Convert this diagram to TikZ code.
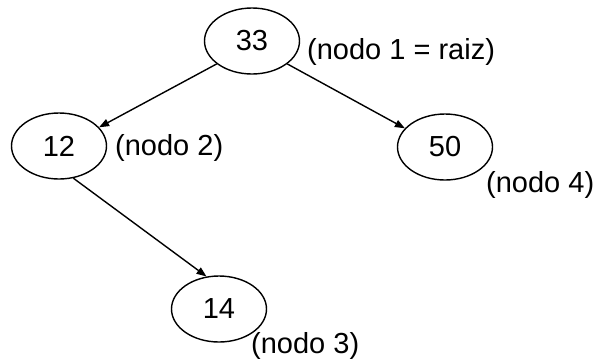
\documentclass[tikz,border=0pt]{standalone}
\usepackage{fontspec}
\setmainfont{Liberation Sans}
\usetikzlibrary{shapes.geometric,arrows.meta}
\tikzset{
  treenode/.style={draw, ellipse, line width=1.4pt, minimum width=95pt, minimum height=66pt, inner sep=0pt, font=\fontsize{29}{34}\selectfont},
  nodelabel/.style={anchor=west, inner sep=0pt, font=\fontsize{29}{34}\selectfont},
  edge/.style={line width=1.4pt, -{Triangle[length=10pt,width=7.5pt]}}
}
\begin{document}
\begin{tikzpicture}[x=1pt,y=-1pt]
\useasboundingbox (0,0) rectangle (594,360);
\node[treenode] (n33) at (252,41) {33};
\node[treenode] (n12) at (59,146) {12};
\node[treenode] (n50) at (445,147) {50};
\node[treenode] (n14) at (219,309) {14};
\node[nodelabel] (l1) at (307,52) {(nodo 1 = raiz)};
\node[nodelabel] (l2) at (115,148) {(nodo 2)};
\node[nodelabel] (l4) at (486,185) {(nodo 4)};
\node[nodelabel] (l3) at (251,346) {(nodo 3)};
\draw[edge] (n33.213) -- (n12.25);
\draw[edge] (n33.327) -- (n50.155);
\draw[edge] (n12.294) -- (n14.111);
\end{tikzpicture}
\end{document}
